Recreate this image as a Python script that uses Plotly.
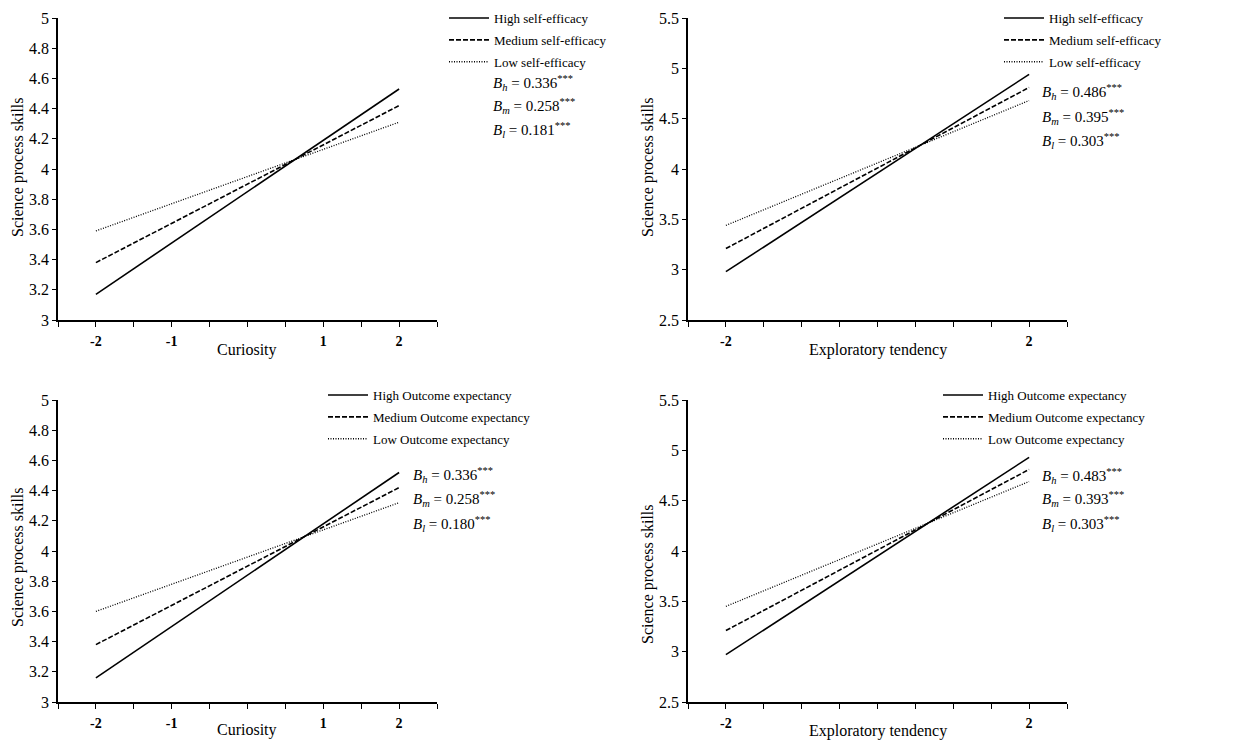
import plotly.graph_objects as go

# page body has an 8px margin; the figure fills the rest of the window
OFF = 8
W, H = 1260 - OFF, 745 - OFF

# ---------------- data ----------------
x_levels = [-2, 2]

p1_high = [3.17, 4.53]
p1_med = [3.38, 4.42]
p1_low = [3.59, 4.31]

p2_high = [2.98, 4.94]
p2_med = [3.21, 4.81]
p2_low = [3.44, 4.68]

p3_high = [3.16, 4.52]
p3_med = [3.38, 4.42]
p3_low = [3.60, 4.32]

p4_high = [2.97, 4.93]
p4_med = [3.21, 4.81]
p4_low = [3.45, 4.69]

legend_self = ["High self-efficacy", "Medium self-efficacy", "Low self-efficacy"]
legend_outcome = ["High Outcome expectancy", "Medium Outcome expectancy", "Low Outcome expectancy"]

p1_coef = ["0.336", "0.258", "0.181"]
p2_coef = ["0.486", "0.395", "0.303"]
p3_coef = ["0.336", "0.258", "0.180"]
p4_coef = ["0.483", "0.393", "0.303"]
coef_subs = ["h", "m", "l"]

x_tickvals = [-2.5, -2, -1.5, -1, -0.5, 0, 0.5, 1, 1.5, 2, 2.5]
x_ticktext_curiosity = ["", "-2", "", "-1", "", "", "", "1", "", "2", ""]
x_ticktext_explore = ["", "-2", "", "", "", "", "", "", "", "2", ""]

y_title = "Science process skills"
x_title_left = "Curiosity"
x_title_right = "Exploratory tendency"

FONT = "Liberation Serif"


def px(x):
    return (x - OFF) / W


def py(y):
    return 1 - (y - OFF) / H


panels = [
    dict(idx=1, high=p1_high, med=p1_med, low=p1_low, names=legend_self, coef=p1_coef,
         xdom=(58, 437), ydom=(18, 320), yrange=[3, 5], dtick=0.2,
         xtext=x_ticktext_curiosity, xtitle=x_title_left,
         leg=(444, 3), coefpos=(491, [83, 106, 130]), ytitle_pos=(18, 167), xtitle_pos=(247, 350)),
    dict(idx=2, high=p2_high, med=p2_med, low=p2_low, names=legend_self, coef=p2_coef,
         xdom=(688, 1067), ydom=(18, 320), yrange=[2.5, 5.5], dtick=0.5,
         xtext=x_ticktext_explore, xtitle=x_title_right,
         leg=(999, 3), coefpos=(1040, [92, 117, 141]), ytitle_pos=(648, 167), xtitle_pos=(878, 350)),
    dict(idx=3, high=p3_high, med=p3_med, low=p3_low, names=legend_outcome, coef=p3_coef,
         xdom=(58, 437), ydom=(400, 702), yrange=[3, 5], dtick=0.2,
         xtext=x_ticktext_curiosity, xtitle=x_title_left,
         leg=(323, 380), coefpos=(411, [475, 499, 524]), ytitle_pos=(18, 557), xtitle_pos=(247, 730)),
    dict(idx=4, high=p4_high, med=p4_med, low=p4_low, names=legend_outcome, coef=p4_coef,
         xdom=(688, 1067), ydom=(400, 702), yrange=[2.5, 5.5], dtick=0.5,
         xtext=x_ticktext_explore, xtitle=x_title_right,
         leg=(938, 380), coefpos=(1040, [476, 499, 524]), ytitle_pos=(648, 574), xtitle_pos=(878, 731)),
]

dashes = ["solid", "5px,2px", "1px,1.5px"]

fig = go.Figure()
annotations = []
layout = {}

for p in panels:
    i = p["idx"]
    xa = "x" if i == 1 else f"x{i}"
    ya = "y" if i == 1 else f"y{i}"
    leg = "legend" if i == 1 else f"legend{i}"
    for k, (vals, nm) in enumerate(zip([p["high"], p["med"], p["low"]], p["names"])):
        fig.add_trace(go.Scatter(
            x=x_levels, y=vals, mode="lines", name=nm,
            line=dict(color="black", width=1.6 if k < 2 else 1.3, dash=dashes[k]),
            xaxis=xa, yaxis=ya, legend=leg, legendgroup=f"{i}-{k}",
            hoverinfo="skip",
        ))

    xkey = "xaxis" if i == 1 else f"xaxis{i}"
    ykey = "yaxis" if i == 1 else f"yaxis{i}"
    layout[xkey] = dict(
        domain=[px(p["xdom"][0]), px(p["xdom"][1])],
        anchor=ya, range=[-2.5, 2.5],
        showline=True, linecolor="black", linewidth=1.5,
        ticks="outside", ticklen=5, tickwidth=1.3, tickcolor="black",
        tickvals=x_tickvals, ticktext=[f"<b>{t}</b>" if t else "" for t in p["xtext"]],
        tickfont=dict(family=FONT, size=14, color="black"),
        ticklabelstandoff=2,
        showgrid=False, zeroline=False, fixedrange=True,
    )
    layout[ykey] = dict(
        domain=[py(p["ydom"][1]), py(p["ydom"][0])],
        anchor=xa, range=p["yrange"],
        tick0=p["yrange"][0], dtick=p["dtick"],
        showline=True, linecolor="black", linewidth=1.5,
        ticks="outside", ticklen=4, tickwidth=1.3, tickcolor="black",
        tickfont=dict(family=FONT, size=16, color="black"),
        showgrid=False, zeroline=False, fixedrange=True,
    )
    layout[leg] = dict(
        x=px(p["leg"][0]), y=py(p["leg"][1]), xanchor="left", yanchor="top",
        bgcolor="rgba(0,0,0,0)", borderwidth=0,
        font=dict(family=FONT, size=13, color="black"),
        tracegroupgap=2, itemwidth=40,
    )

    # coefficient annotations
    cx, cys = p["coefpos"]
    for sub, val, cy in zip(coef_subs, p["coef"], cys):
        annotations.append(dict(
            x=px(cx), y=py(cy), xref="paper", yref="paper", xanchor="left", yanchor="middle",
            text=f"<i>B</i><sub><i>{sub}</i></sub> = {val}<sup>***</sup>",
            showarrow=False, font=dict(family=FONT, size=15, color="black"),
        ))
    # axis titles
    annotations.append(dict(
        x=px(p["ytitle_pos"][0]), y=py(p["ytitle_pos"][1]), xref="paper", yref="paper",
        xanchor="center", yanchor="middle", textangle=-90, text=y_title, showarrow=False,
        font=dict(family=FONT, size=16, color="black"),
    ))
    annotations.append(dict(
        x=px(p["xtitle_pos"][0]), y=py(p["xtitle_pos"][1]), xref="paper", yref="paper",
        xanchor="center", yanchor="middle", text=p["xtitle"], showarrow=False,
        font=dict(family=FONT, size=16, color="black"),
    ))

fig.update_layout(
    width=W, height=H,
    margin=dict(l=0, r=0, t=0, b=0, autoexpand=False),
    paper_bgcolor="white", plot_bgcolor="white",
    showlegend=True,
    annotations=annotations,
    font=dict(family=FONT, color="black"),
    **layout,
)

fig.write_html("out.html")
